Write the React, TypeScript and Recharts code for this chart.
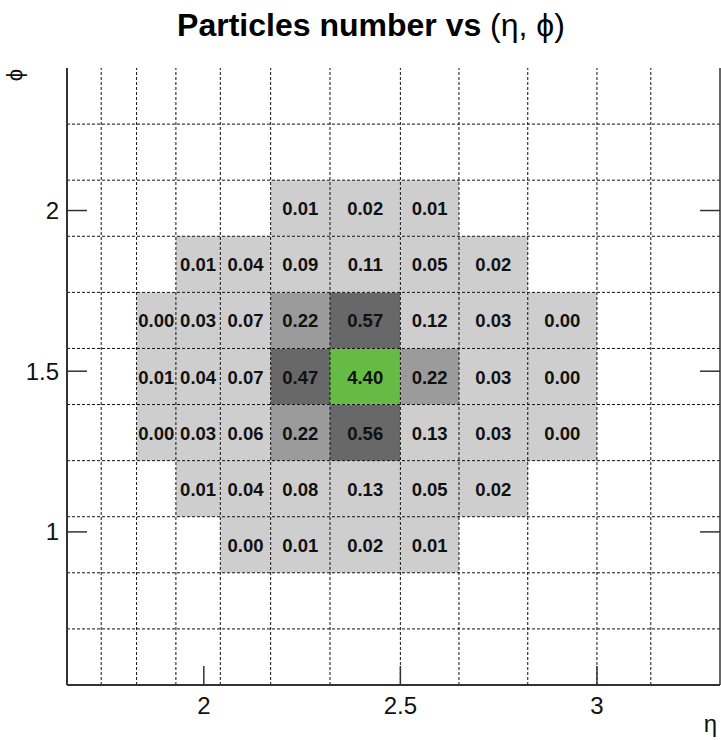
import React from 'react';
import { ScatterChart, XAxis, YAxis, ReferenceArea, ReferenceLine, Scatter } from 'recharts';

// Bin edges of the histogram
const etaEdges = [1.652, 1.739, 1.829, 1.929, 2.042, 2.17, 2.321, 2.5, 2.649, 2.824, 3.0, 3.137, 3.313];
const phiEdges = [0.5236, 0.6981, 0.8727, 1.0472, 1.2217, 1.3963, 1.5708, 1.7453, 1.9199, 2.0944, 2.2689, 2.4435];

// Axis tick labels
const etaTicks = [2, 2.5, 3];
const phiTicks = [1, 1.5, 2];

// Mean particle counts per (eta, phi) bin, one array per phi row
const phi50to60 = [0.0, 0.01, 0.02, 0.01];
const phi60to70 = [0.01, 0.04, 0.08, 0.13, 0.05, 0.02];
const phi70to80 = [0.0, 0.03, 0.06, 0.22, 0.56, 0.13, 0.03, 0.0];
const phi80to90 = [0.01, 0.04, 0.07, 0.47, 4.4, 0.22, 0.03, 0.0];
const phi90to100 = [0.0, 0.03, 0.07, 0.22, 0.57, 0.12, 0.03, 0.0];
const phi100to110 = [0.01, 0.04, 0.09, 0.11, 0.05, 0.02];
const phi110to120 = [0.01, 0.02, 0.01];

// Which phi bin each row sits in and its first eta bin
const rows = [
  { phiBin: 2, etaStart: 4, values: phi50to60 },
  { phiBin: 3, etaStart: 3, values: phi60to70 },
  { phiBin: 4, etaStart: 2, values: phi70to80 },
  { phiBin: 5, etaStart: 2, values: phi80to90 },
  { phiBin: 6, etaStart: 2, values: phi90to100 },
  { phiBin: 7, etaStart: 3, values: phi100to110 },
  { phiBin: 8, etaStart: 5, values: phi110to120 },
];

// Colour palette levels
const levelBounds = [0.2, 0.4, 1.0];
const levelColors = ['#cecece', '#9b9b9b', '#686868', '#66bb45'];

const colorFor = (v: number) => {
  let i = 0;
  while (i < levelBounds.length && v >= levelBounds[i]) i++;
  return levelColors[i];
};

const cells = rows.flatMap((r) =>
  r.values.map((v, i) => {
    const eta0 = etaEdges[r.etaStart + i];
    const eta1 = etaEdges[r.etaStart + i + 1];
    const phi0 = phiEdges[r.phiBin];
    const phi1 = phiEdges[r.phiBin + 1];
    return { eta0, eta1, phi0, phi1, x: (eta0 + eta1) / 2, y: (phi0 + phi1) / 2, value: v };
  })
);

const FONT = '"Liberation Sans", Arial, Helvetica, sans-serif';
const AXIS_COLOR = '#333';

const BottomTick = (props: any) => {
  const { x, y, payload } = props;
  return (
    <g>
      <line x1={x} x2={x} y1={y} y2={y - 19} stroke={AXIS_COLOR} strokeWidth={1.5} />
      <text x={x} y={y + 29} textAnchor="middle" fontSize={24} fontFamily={FONT} fill="#111">
        {payload.value}
      </text>
    </g>
  );
};

const LeftTick = (props: any) => {
  const { x, y, payload } = props;
  return (
    <g>
      <line x1={x} x2={x + 20} y1={y} y2={y} stroke={AXIS_COLOR} strokeWidth={1.5} />
      <text x={x - 8} y={y + 8.5} textAnchor="end" fontSize={24} fontFamily={FONT} fill="#111">
        {payload.value}
      </text>
    </g>
  );
};

const RightTick = (props: any) => {
  const { x, y } = props;
  return <line x1={x} x2={x - 20} y1={y} y2={y} stroke={AXIS_COLOR} strokeWidth={1.5} />;
};

const CellText = (props: any) => {
  const { cx, cy, payload } = props;
  return (
    <text
      x={cx}
      y={cy + 7}
      textAnchor="middle"
      fontSize={18.5}
      fontWeight="bold"
      fontFamily={FONT}
      fill="#111"
    >
      {payload.value.toFixed(2)}
    </text>
  );
};

export default function App() {
  const xDomain = [etaEdges[0], etaEdges[etaEdges.length - 1]];
  const yDomain = [phiEdges[0], phiEdges[phiEdges.length - 1]];
  return (
    <div style={{ position: 'absolute', left: 0, top: 0, width: 721, height: 740, background: '#fff' }}>
      <ScatterChart width={721} height={740} margin={{ top: 68, right: 0, bottom: 0, left: 0 }}>
        <XAxis
          type="number"
          dataKey="x"
          domain={xDomain}
          ticks={etaTicks}
          allowDataOverflow
          height={55}
          tickSize={0}
          tickMargin={0}
          tickLine={false}
          tick={<BottomTick />}
          axisLine={{ stroke: AXIS_COLOR, strokeWidth: 2 }}
        />
        <XAxis
          xAxisId="top"
          orientation="top"
          type="number"
          dataKey="x"
          domain={xDomain}
          allowDataOverflow
          height={0}
          tick={false}
          tickLine={false}
          axisLine={{ stroke: AXIS_COLOR, strokeWidth: 1.5 }}
        />
        <YAxis
          type="number"
          dataKey="y"
          domain={yDomain}
          ticks={phiTicks}
          allowDataOverflow
          width={67}
          tickSize={0}
          tickMargin={0}
          tickLine={false}
          tick={<LeftTick />}
          axisLine={{ stroke: AXIS_COLOR, strokeWidth: 2 }}
        />
        <YAxis
          yAxisId="right"
          orientation="right"
          type="number"
          dataKey="y"
          domain={yDomain}
          ticks={phiTicks}
          allowDataOverflow
          width={1}
          tickSize={0}
          tickMargin={0}
          tickLine={false}
          tick={<RightTick />}
          axisLine={{ stroke: AXIS_COLOR, strokeWidth: 1.5 }}
        />
        {cells.map((c, i) => (
          <ReferenceArea
            key={`cell-${i}`}
            x1={c.eta0}
            x2={c.eta1}
            y1={c.phi0}
            y2={c.phi1}
            fill={colorFor(c.value)}
            fillOpacity={1}
            stroke="none"
            ifOverflow="visible"
          />
        ))}
        {etaEdges.slice(1, -1).map((e) => (
          <ReferenceLine key={`eta-${e}`} x={e} stroke="#111" strokeWidth={1} strokeDasharray="3 2" />
        ))}
        {phiEdges.slice(1, -1).map((p) => (
          <ReferenceLine key={`phi-${p}`} y={p} stroke="#111" strokeWidth={1} strokeDasharray="3 2" />
        ))}
        <Scatter data={cells} isAnimationActive={false} shape={<CellText />} />
      </ScatterChart>
      <svg
        width={721}
        height={740}
        style={{ position: 'absolute', left: 0, top: 0, pointerEvents: 'none' }}
      >
        <text x={371} y={36} textAnchor="middle" fontSize={32} fontFamily={FONT} fill="#000">
          <tspan fontWeight="bold">Particles number vs </tspan>
          <tspan>(η, ϕ)</tspan>
        </text>
        <text
          x={0}
          y={0}
          transform="translate(22 75) rotate(-90)"
          textAnchor="middle"
          fontSize={22}
          fontFamily={FONT}
          fill="#111"
        >
          ϕ
        </text>
        <text x={717} y={732} textAnchor="end" fontSize={24} fontFamily={FONT} fill="#111">
          η
        </text>
      </svg>
    </div>
  );
}
